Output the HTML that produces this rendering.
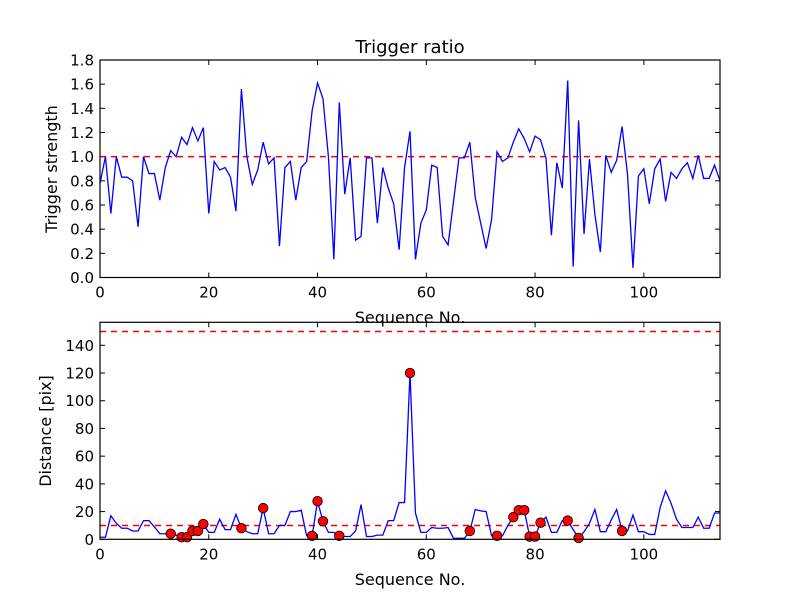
<!DOCTYPE html>
<html><head><meta charset="utf-8"><style>
body{margin:0;background:#fff;}
svg{display:block;font-family:"DejaVu Sans","Liberation Sans",sans-serif;}
</style></head><body>
<svg id="chart" width="800" height="600" viewBox="0 0 800 600" xmlns="http://www.w3.org/2000/svg">
<rect width="800" height="600" fill="#fff"/>
<text x="410" y="53" font-size="18" text-anchor="middle">Trigger ratio</text>
</svg>
<script>
const strength = [0.78,1.0,0.53,1.0,0.83,0.83,0.80,0.42,1.0,0.86,0.86,0.64,0.91,1.05,1.0,1.16,1.10,1.24,1.13,1.24,0.53,0.96,0.89,0.91,0.83,0.55,1.56,1.0,0.77,0.89,1.12,0.94,0.99,0.26,0.91,0.96,0.64,0.91,0.96,1.38,1.61,1.48,1.0,0.15,1.45,0.69,0.99,0.31,0.34,0.99,0.99,0.45,0.91,0.74,0.61,0.23,0.91,1.21,0.15,0.45,0.56,0.93,0.91,0.34,0.27,0.63,0.99,0.99,1.12,0.66,0.45,0.24,0.48,1.04,0.96,0.99,1.12,1.23,1.15,1.04,1.17,1.14,0.99,0.35,0.95,0.74,1.63,0.09,1.30,0.36,0.98,0.52,0.21,1.01,0.87,0.97,1.25,0.85,0.08,0.84,0.90,0.61,0.90,0.98,0.63,0.87,0.82,0.90,0.95,0.82,1.01,0.82,0.82,0.93,0.80];
const distance = [1.5,1.5,17,11.5,8,8,6,6,13.5,13.5,9,4,4,4,3,1.5,1.5,6,6,11,5,5,14.5,7,7,18,8,5.5,4,4,22.5,4,4,10,10,20,20,21,2.5,2.5,27.5,13,5,5,2.5,2,2,6,25,2,2,3,3,13.5,13.5,26.5,26.5,120,19,5,5,8.5,8,8,8.5,0.7,0.7,0.7,6,21.5,20.5,20,2.5,2.5,2.5,10,16,21,21,2,2,12,16,5,5,13.5,13.5,7,1,5.5,11.5,21.5,5.5,5.5,14,21.5,6,6,17.5,5.5,5.5,3.5,3.5,23,35,26,14.5,8.5,8.5,8.5,16,8,8,19,19];
const markerIdx = [13,15,16,17,18,19,26,30,39,40,41,44,57,68,73,76,77,78,79,80,81,86,88,96];
const xTicks = [0,20,40,60,80,100];
const yTicksTop = [0,0.2,0.4,0.6,0.8,1.0,1.2,1.4,1.6,1.8];
const yTicksBot = [0,20,40,60,80,100,120,140];
const thresholdTop = 1.0;
const thresholdsBot = [10,150];

const NS="http://www.w3.org/2000/svg";
const svg=document.getElementById('chart');
function el(t,a,p){const e=document.createElementNS(NS,t);for(const k in a)e.setAttribute(k,a[k]);(p||svg).appendChild(e);return e;}
const L=100,R=720,XMAX=114;
const xs=v=>L+v/XMAX*(R-L);

function panel(top,bot,ymax,yTicks,fmt,prefix){
  const ys=v=>bot-v/ymax*(bot-top);
  const g=el('g',{});
  
  
  xTicks.forEach(t=>{
    const x=xs(t);
    el('line',{x1:x,x2:x,y1:bot,y2:bot-5,stroke:'#000'},g);
    el('line',{x1:x,x2:x,y1:top,y2:top+5,stroke:'#000'},g);
    const tx=el('text',{x:x,y:bot+20,'font-size':15,'text-anchor':'middle'},g);
    tx.textContent=t;
    
    
  });
  yTicks.forEach(t=>{
    const y=ys(t);
    el('line',{x1:L,x2:L+5,y1:y,y2:y,stroke:'#000'},g);
    el('line',{x1:R,x2:R-5,y1:y,y2:y,stroke:'#000'},g);
    const tx=el('text',{x:L-6,y:y+5.5,'font-size':15,'text-anchor':'end'},g);
    tx.textContent=fmt(t);
    
    
  });
  return ys;
}

const T1=60,B1=277.5;
const ys1=panel(T1,B1,1.8,yTicksTop,v=>v.toFixed(1),'top');
const th=el('line',{x1:L,x2:R,y1:ys1(thresholdTop),y2:ys1(thresholdTop),stroke:'#ff0000','stroke-dasharray':'6,5','stroke-width':1.5});


const l1=el('polyline',{points:strength.map((v,i)=>xs(i)+','+ys1(v)).join(' '),fill:'none',stroke:'#00f','stroke-width':1.3});


el('rect',{x:L,y:T1,width:R-L,height:B1-T1,fill:'none',stroke:'#000','stroke-width':1.2});
let t=el('text',{x:57,y:169,'font-size':16,'text-anchor':'middle',transform:'rotate(-90 57 169)'});
t.textContent='Trigger strength';



const T2=322.3,B2=539.3;
const ys2=panel(T2,B2,156.6,yTicksBot,v=>String(v),'bottom');
thresholdsBot.forEach(v=>{
  const d=el('line',{x1:L,x2:R,y1:ys2(v),y2:ys2(v),stroke:'#ff0000','stroke-dasharray':'6,5','stroke-width':1.5});
  
  
});
const l2=el('polyline',{points:distance.map((v,i)=>xs(i)+','+ys2(v)).join(' '),fill:'none',stroke:'#00f','stroke-width':1.3});


markerIdx.forEach(i=>{
  const c=el('circle',{cx:xs(i),cy:ys2(distance[i]),r:4.8,fill:'#f00',stroke:'#000','stroke-width':0.8});
  
  
});
el('rect',{x:L,y:T2,width:R-L,height:B2-T2,fill:'none',stroke:'#000','stroke-width':1.2});

t=el('text',{x:410,y:323,'font-size':16,'text-anchor':'middle'});
t.textContent='Sequence No.';


t=el('text',{x:410,y:585,'font-size':16,'text-anchor':'middle'});
t.textContent='Sequence No.';


t=el('text',{x:51,y:431,'font-size':16,'text-anchor':'middle',transform:'rotate(-90 51 431)'});
t.textContent='Distance [pix]';


</script>
</body></html>
